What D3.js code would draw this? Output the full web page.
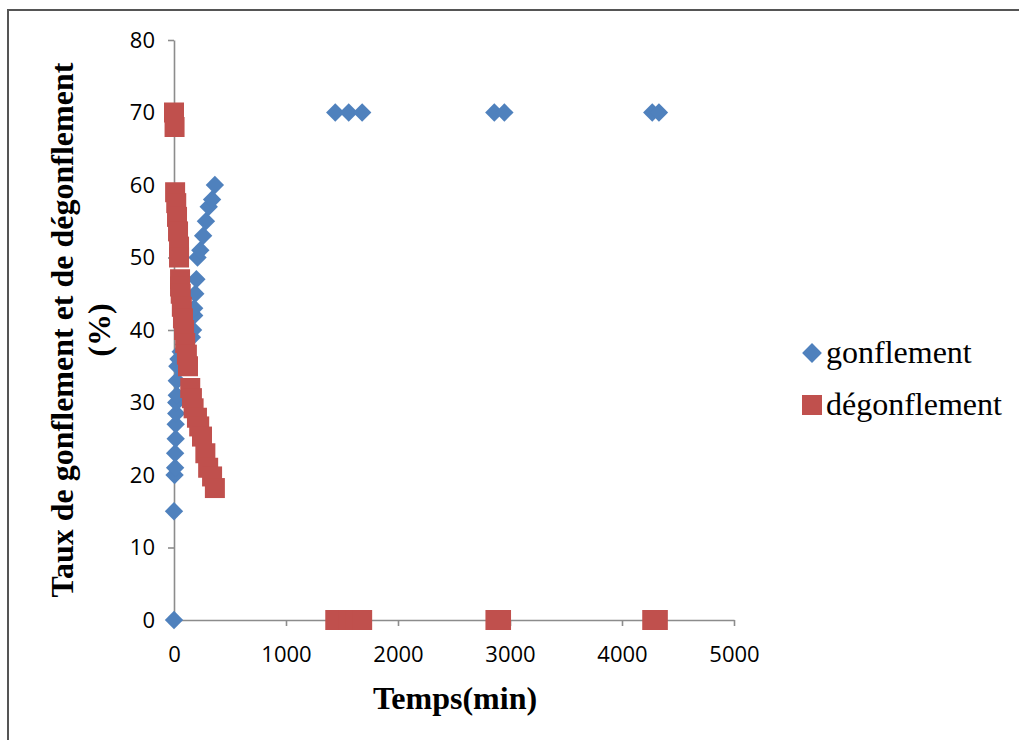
<!DOCTYPE html>
<html><head><meta charset="utf-8">
<script src="https://cdn.jsdelivr.net/npm/d3@7"></script>
<style>body{margin:0;background:#fff}svg{display:block}</style>
</head><body>
<svg id="c" width="1019" height="740"></svg>
<script>
const xTicks = [0, 1000, 2000, 3000, 4000, 5000];
const yTicks = [0, 10, 20, 30, 40, 50, 60, 70, 80];
const seriesNames = ["gonflement", "dégonflement"];
const gonfT = [0, 0, 5, 10, 10, 15, 15, 20, 20, 25, 25, 30, 40, 60, 90, 120, 160, 170, 180, 180, 190, 200, 210, 235, 260, 285, 310, 340, 365, 1440, 1560, 1680, 2860, 2950, 4270, 4330];
const gonfV = [0, 15, 20, 21, 23, 25, 27, 28.5, 30, 31, 33, 35, 36, 37, 38, 38.5, 39, 40, 42, 43, 45, 47, 50, 51, 53, 55, 57, 58, 60, 70, 70, 70, 70, 70, 70, 70];
const degT = [0, 5, 10, 20, 27, 36, 45, 45, 54, 54, 60, 70, 80, 90, 100, 115, 125, 145, 160, 175, 205, 225, 250, 280, 305, 340, 365, 1440, 1500, 1560, 1620, 1680, 2870, 2920, 4270, 4320];
const degV = [70, 68, 59, 57.5, 55.6, 53.6, 51.5, 50, 47, 46, 45, 43.2, 41.6, 40, 38.2, 36.6, 35, 32, 30.6, 29.2, 27.9, 26.7, 25.3, 23, 21, 19.8, 18.2, 0, 0, 0, 0, 0, 0, 0, 0, 0];

const svg = d3.select("#c");
const x = d3.scaleLinear().domain([0, 5000]).range([174, 734]);
const y = d3.scaleLinear().domain([0, 80]).range([620, 40]);

// frame
svg.append("path").attr("d", "M8,740 L8,10 L1019,10").attr("fill", "none").attr("stroke", "#555").attr("stroke-width", 2);

const axisColor = "#8c8c8c";
const tickFont = "'Open Sans', 'Liberation Sans', sans-serif";

const gx = svg.append("g").attr("transform", "translate(0,620)")
  .call(d3.axisBottom(x).tickValues(xTicks).tickSize(6).tickSizeOuter(0).tickFormat(d3.format("d")));
const gy = svg.append("g").attr("transform", "translate(174,0)")
  .call(d3.axisLeft(y).tickValues(yTicks).tickSize(6).tickSizeOuter(0).tickFormat(d3.format("d")));
[gx, gy].forEach(g => {
  g.attr("font-size", null);
  g.select(".domain").attr("stroke", axisColor).attr("stroke-width", 1.6);
  g.selectAll(".tick line").attr("stroke", axisColor).attr("stroke-width", 1.6);
  g.selectAll(".tick text").attr("fill", "#000").style("font-family", tickFont).style("font-size", "22px");
});
gx.selectAll(".tick text").attr("dy", "0.71em").attr("y", 26);
gy.selectAll(".tick text").attr("x", -19);

// data
const gonf = gonfT.map((t, i) => ({t, v: gonfV[i]}));
const deg = degT.map((t, i) => ({t, v: degV[i]}));
const blue = "#4F81BD", red = "#C0504D";
const sq = 20, dia = 13;

svg.append("g").selectAll("rect").data(gonf).join("rect")
  .attr("x", -dia / 2).attr("y", -dia / 2).attr("width", dia).attr("height", dia)
  .attr("transform", d => `translate(${x(d.t)},${y(d.v)}) rotate(45)`)
  .attr("fill", blue);

svg.append("g").selectAll("rect").data(deg).join("rect")
  .attr("x", d => x(d.t) - sq / 2).attr("y", d => y(d.v) - sq / 2)
  .attr("width", sq).attr("height", sq).attr("fill", red);

// axis titles
const serif = "'Liberation Serif', 'Times New Roman', serif";
svg.append("text").attr("x", 455).attr("y", 709).attr("text-anchor", "middle")
  .style("font-family", serif).style("font-weight", "bold").style("font-size", "32px").text("Temps(min)");
const yt = svg.append("text").attr("transform", "rotate(-90)")
  .attr("text-anchor", "middle").style("font-family", serif).style("font-weight", "bold").style("font-size", "32px");
yt.append("tspan").attr("x", -330).attr("y", 73).text("Taux de gonflement et de dégonflement");
yt.append("tspan").attr("x", -330).attr("y", 110).text("(%)");

// legend
const lg = svg.append("g");
lg.append("rect").attr("x", -7).attr("y", -7).attr("width", 14).attr("height", 14)
  .attr("transform", "translate(812,353) rotate(45)").attr("fill", blue);
lg.append("rect").attr("x", 802).attr("y", 395).attr("width", 20).attr("height", 20).attr("fill", red);
lg.append("text").attr("x", 826).attr("y", 363).style("font-family", serif).style("font-size", "32px").text(seriesNames[0]);
lg.append("text").attr("x", 826).attr("y", 415).style("font-family", serif).style("font-size", "32px").text(seriesNames[1]);
</script>
</body></html>
